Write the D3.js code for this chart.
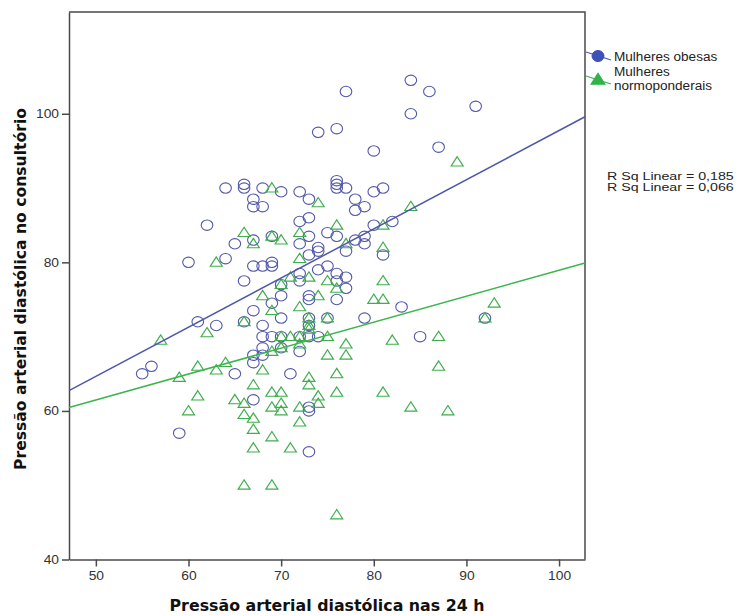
<!DOCTYPE html>
<html>
<head>
<meta charset="utf-8">
<script src="https://cdn.jsdelivr.net/npm/d3@7"></script>
<style>
  html, body { margin: 0; padding: 0; background: #fff; }
  svg { display: block; }
</style>
</head>
<body>
<svg id="chart" width="741" height="616"></svg>
<script>
// Pressão arterial diastólica nas 24 h (x) vs. no consultório (y)
const groups = ["Mulheres obesas", "Mulheres normoponderais"];

const obesasX = [55,56,59,60,61,62,63,64,64,65,65,66,66,66,66,67,67,67,67,67,67,67,67,
  68,68,68,68,68,68,68,69,69,69,69,69,70,70,70,70,70,70,71,72,72,72,72,72,72,72,
  73,73,73,73,73,73,73,73,73,73,73,73,74,74,74,74,74,75,75,75,76,76,76,76,76,76,76,76,
  77,77,77,77,77,78,78,78,79,79,79,79,80,80,80,81,81,82,83,84,84,85,86,87,91,92];
const obesasY = [65,66,57,80,72,85,71.5,80.5,90,82.5,65,90.5,90,77.5,72,88.5,87.5,83,79.5,73.5,67.5,66.5,61.5,
  90,87.5,79.5,71.5,70,68.5,67.5,83.5,80,79.5,74.5,70,89.5,77,75.5,72.5,70,68.5,65,89.5,85.5,82.5,78.5,77.5,70,68,
  88.5,86,83.5,81,75.5,75,72.5,71.5,70,60.5,60,54.5,97.5,82,81.5,79,70,84,79.5,72.5,98,91,90.5,90,83.5,78.5,77.5,75,
  103,90,81.5,78,76.5,88.5,87,83,87.5,83.5,82.5,72.5,95,89.5,85,90,81,85.5,74,104.5,100,70,103,95.5,101,72.5];

const normoX = [57,59,60,61,61,62,63,63,64,65,66,66,66,66,66,67,67,67,67,67,68,68,
  69,69,69,69,69,69,69,69,70,70,70,70,70,70,70,71,71,71,72,72,72,72,72,72,72,
  73,73,73,73,73,73,74,74,74,74,75,75,75,75,76,76,76,76,76,77,77,77,
  80,81,81,81,81,81,82,84,84,87,87,88,89,92,93];
const normoY = [69.5,64.5,60,66,62,70.5,80,65.5,66.5,61.5,84,72,61,59.5,50,82.5,63.5,59,57.5,55,75.5,65.5,
  90,83.5,73.5,68,62.5,60.5,56.5,50,83,77,70,68.5,62.5,61,60,78,70,55,84,80.5,74,70,69,60.5,58.5,
  78,72.5,71.5,71,64.5,63.5,88,75.5,62,61,77.5,72.5,70,67.5,85,76.5,65,62.5,46,82.5,69,67.5,
  75,85,82,77.5,75,62.5,69.5,87.5,60.5,70,66,60,93.5,72.5,74.5];

// Linear fit lines: intercept, slope and R² per group
const fitIntercept = [31.55, 44.03];
const fitSlope = [0.662, 0.349];
const rSquared = ["0,185", "0,066"];

const xTicks = [50, 60, 70, 80, 90, 100];
const yTicks = [40, 60, 80, 100];

const colors = ["#5258aa", "#3fae4c"];
const lineColors = ["#4f57aa", "#3cb54c"];
const axisColor = "#4a4a4a";
const sansFont = "'Liberation Sans', Arial, sans-serif";
const titleFont = "'DejaVu Sans', Verdana, sans-serif";

const svg = d3.select("#chart");
const frame = { left: 69, right: 585, top: 12, bottom: 559.5 };

const x = d3.scaleLinear().domain([47.1, 102.8]).range([frame.left, frame.right]);
const y = d3.scaleLinear().domain([40, 113.7]).range([frame.bottom, frame.top]);

// widen text glyphs slightly (wide-set chart lettering)
function widen(sel, k) {
  sel.each(function () {
    const len = this.getComputedTextLength();
    d3.select(this).attr("textLength", len * k).attr("lengthAdjust", "spacingAndGlyphs");
  });
}

// axes
const xAxis = d3.axisBottom(x).tickValues(xTicks).tickSize(7).tickSizeOuter(0).tickPadding(5).tickFormat(d3.format("d"));
const yAxis = d3.axisLeft(y).tickValues(yTicks).tickSize(7).tickSizeOuter(0).tickPadding(3).tickFormat(d3.format("d"));

const gx = svg.append("g").attr("transform", `translate(0,${frame.bottom})`).call(xAxis);
const gy = svg.append("g").attr("transform", `translate(${frame.left},0)`).call(yAxis);
[gx, gy].forEach(g => {
  g.select(".domain").attr("stroke", axisColor).attr("stroke-width", 1.5);
  g.selectAll(".tick line").attr("stroke", axisColor).attr("stroke-width", 1.5);
  g.selectAll(".tick text")
    .attr("fill", "#333")
    .style("font-family", sansFont)
    .style("font-size", "12px")
    .call(widen, 1.15);
});

// top and right border of the plot frame
svg.append("path")
  .attr("d", `M${frame.left},${frame.top}H${frame.right}V${frame.bottom}`)
  .attr("fill", "none").attr("stroke", axisColor).attr("stroke-width", 1.5);

// axis titles
svg.append("text")
  .attr("x", 327).attr("y", 611)
  .attr("text-anchor", "middle")
  .style("font-family", titleFont)
  .style("font-weight", "bold").style("font-size", "15px")
  .attr("fill", "#111")
  .attr("textLength", 315).attr("lengthAdjust", "spacingAndGlyphs")
  .text("Pressão arterial diastólica nas 24 h");

svg.append("text")
  .attr("transform", `translate(26,289) rotate(-90)`)
  .attr("text-anchor", "middle")
  .style("font-family", titleFont)
  .style("font-weight", "bold").style("font-size", "15px")
  .attr("fill", "#111")
  .attr("textLength", 362).attr("lengthAdjust", "spacingAndGlyphs")
  .text("Pressão arterial diastólica no consultório");

const plot = svg.append("g");

// markers
const obesas = obesasX.map((v, i) => ({ x: v, y: obesasY[i] }));
const normo = normoX.map((v, i) => ({ x: v, y: normoY[i] }));

const triangle = d3.symbol().type(d3.symbolTriangle).size(50);

plot.append("g").selectAll("ellipse").data(obesas).join("ellipse")
  .attr("cx", d => x(d.x)).attr("cy", d => y(d.y)).attr("rx", 5.8).attr("ry", 5.2)
  .attr("fill", "none").attr("stroke", colors[0]).attr("stroke-width", 1.1);

plot.append("g").selectAll("path").data(normo).join("path")
  .attr("d", triangle)
  .attr("transform", d => `translate(${x(d.x)},${y(d.y) + 0.8}) scale(1.12,1)`)
  .attr("fill", "none").attr("stroke", colors[1]).attr("stroke-width", 1.1);

// fit lines across the full x range
const [x0, x1] = x.domain();
groups.forEach((g, i) => {
  plot.append("line")
    .attr("x1", x(x0)).attr("y1", y(fitIntercept[i] + fitSlope[i] * x0))
    .attr("x2", x(x1)).attr("y2", y(fitIntercept[i] + fitSlope[i] * x1))
    .attr("stroke", lineColors[i]).attr("stroke-width", 1.5);
});

// legend
const legend = svg.append("g");
const legendRows = [56, 80];
legendRows.forEach((ly, i) => {
  legend.append("line")
    .attr("x1", 586).attr("y1", ly - 4).attr("x2", 611).attr("y2", ly + 4)
    .attr("stroke", lineColors[i]).attr("stroke-width", 1.2);
});
legend.append("ellipse").attr("cx", 598).attr("cy", legendRows[0]).attr("rx", 6).attr("ry", 5.5)
  .attr("fill", "#3d52b8").attr("stroke", "#3d52b8");
legend.append("path").attr("d", d3.symbol().type(d3.symbolTriangle).size(70))
  .attr("transform", `translate(598,${legendRows[1] + 0.5}) scale(1.1,1)`)
  .attr("fill", "#2fb34a").attr("stroke", "#2fb34a");

const legendLines = [[groups[0], 61], ["Mulheres", 76], ["normoponderais", 90]];
legendLines.forEach(([t, ly]) => {
  legend.append("text").attr("x", 614).attr("y", ly).text(t)
    .style("font-family", sansFont).style("font-size", "12px").attr("fill", "#222")
    .call(widen, 1.13);
});

// R² annotations
rSquared.forEach((r, i) => {
  svg.append("text").attr("x", 607).attr("y", 179.5 + i * 11.5)
    .style("font-family", sansFont).style("font-size", "10px").attr("fill", "#222")
    .text(`R Sq Linear = ${r}`)
    .call(widen, 1.42);
});
</script>
</body>
</html>
